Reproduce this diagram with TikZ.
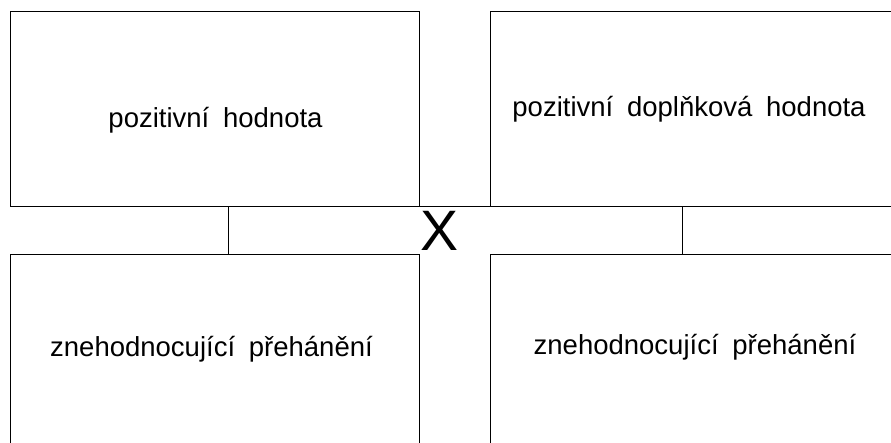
\documentclass[tikz,border=0pt]{standalone}
\usepackage{fontspec}
\setmainfont{Liberation Sans}
\begin{document}
\begin{tikzpicture}[x=1pt,y=-1pt,
  edge/.style={line width=1pt,black},
  lbl/.style={anchor=base,inner sep=0pt,font=\fontsize{27.5}{32}\selectfont},
  bigx/.style={anchor=base,inner sep=0pt,font=\fontsize{57}{60}\selectfont}]
\useasboundingbox (0,0) rectangle (891,443);
\clip (0,0) rectangle (891,443);
% boxes
\draw[edge] (10,207) -- (10,12) -- (419.5,12) -- (419.5,207);
\draw[edge] (490,207) -- (490,12) -- (900,12);
\draw[edge] (10,207) -- (900,207);
\draw[edge] (228.5,207) -- (228.5,255);
\draw[edge] (682,207) -- (682,255);
\draw[edge] (10,450) -- (10,255) -- (419.5,255) -- (419.5,450);
\draw[edge] (490,450) -- (490,255) -- (900,255);
% labels
\node[lbl] (tl) at (215.5,127.5) {pozitivní\hspace{0.5em}hodnota};
\node[lbl] (tr) at (689,117) {pozitivní\hspace{0.5em}doplňková\hspace{0.5em}hodnota};
\node[lbl] (bl) at (211.5,356) {znehodnocující\hspace{0.5em}přehánění};
\node[lbl] (br) at (695,355) {znehodnocující\hspace{0.5em}přehánění};
\node[bigx] (x) at (440,251) {X};
\end{tikzpicture}
\end{document}
